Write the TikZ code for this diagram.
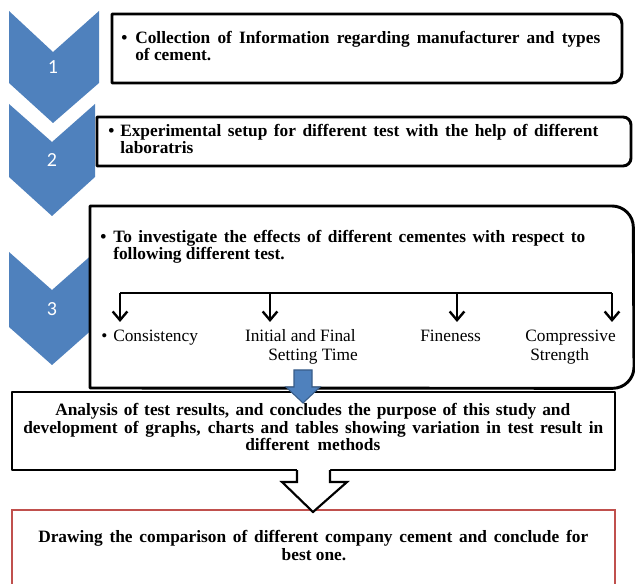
\documentclass[tikz,border=0pt]{standalone}
\usepackage{fontspec}
\setmainfont{Liberation Serif}
\newfontfamily\numfont{Carlito}
\usetikzlibrary{arrows.meta}
\definecolor{chev}{HTML}{4F81BD}
\definecolor{chevdark}{HTML}{385D8A}
\definecolor{redbox}{HTML}{C0504D}
\newcommand\jline[2]{\makebox[#1pt][s]{#2}}
\begin{document}
\begin{tikzpicture}[x=0.75pt,y=-0.75pt,
  boxline/.style={line width=2.2pt, draw=black, fill=white, line join=round},
  bt/.style={font=\fontsize{13}{15}\selectfont\bfseries, inner sep=0pt},
  lt/.style={font=\fontsize{13}{15}\selectfont, inner sep=0pt},
  chevron/.style={fill=chev, draw=none},
  num/.style={font=\numfont\fontsize{15}{18}\selectfont, text=white, inner sep=0pt},
  treeline/.style={line width=1.8pt},
  treearrow/.style={line width=1.8pt, -{Straight Barb[length=6.5pt,width=11pt]}},
  bluearrow/.style={fill=chev, draw=chevdark, line width=0.8pt},
  hollowarrow/.style={line width=1.6pt, draw=black, line join=miter}
]
\useasboundingbox (0,0) rectangle (635,584);
\fill[white] (0,0) rectangle (635,584);

% chevrons
\fill[chevron] (9,11) -- (53,52) -- (99,11) -- (99,83) -- (53,123) -- (9,83) -- cycle;
\fill[chevron] (9,104) -- (52,142) -- (95,104) -- (95,177) -- (52,216) -- (9,177) -- cycle;
\fill[chevron] (9,252) -- (52,290) -- (95,252) -- (95,327) -- (52,365) -- (9,327) -- cycle;
\node[num] (n1) at (53,67) {1};
\node[num] (n2) at (52,160) {2};
\node[num] (n3) at (52,309) {3};

% box 1
\draw[boxline] (112,14) -- (612,14) arc[start angle=90,end angle=0,radius=7.5pt]
  -- (622,73) arc[start angle=0,end angle=-90,radius=7.5pt] -- (112,83) -- cycle;
\node[bt,anchor=base west] (b1bul) at (121,44) {•};
\node[bt,anchor=base west] (b1a) at (135,44) {\jline{348.75}{Collection of Information regarding manufacturer and types}};
\node[bt,anchor=base west] (b1b) at (135,61) {of cement.};

% box 2
\draw[boxline] (97,117) -- (623,117) arc[start angle=90,end angle=0,radius=6pt]
  -- (631,158) arc[start angle=0,end angle=-90,radius=6pt] -- (97,166) -- cycle;
\node[bt,anchor=base west] (b2bul) at (108,137) {•};
\node[bt,anchor=base west] (b2a) at (120,137) {\jline{358.5}{Experimental setup for different test with the help of different}};
\node[bt,anchor=base west] (b2b) at (120,154) {laboratris};

% box 3
\draw[boxline] (90,206) -- (612,206) arc[start angle=90,end angle=0,radius=16pt]
  -- (634,367) arc[start angle=0,end angle=-90,radius=16pt] -- (90,388) -- cycle;
\node[bt,anchor=base west] (b3bul) at (100,243) {•};
\node[bt,anchor=base west] (b3a) at (113,243) {\jline{354}{To investigate the effects of different cementes with respect to}};
\node[bt,anchor=base west] (b3b) at (113,260) {following different test.};

% tree
\coordinate (h1) at (120,293);
\coordinate (h2) at (270,293);
\coordinate (h3) at (457,293);
\coordinate (h4) at (612,293);
\coordinate (e1) at (120,322);
\coordinate (e2) at (270,322);
\coordinate (e3) at (457,322);
\coordinate (e4) at (612,322);
\draw[treeline] (h1) -- (h4);
\draw[treearrow] (h1) -- (e1);
\draw[treearrow] (h2) -- (e2);
\draw[treearrow] (h3) -- (e3);
\draw[treearrow] (h4) -- (e4);
\node[lt,anchor=base west] (l1bul) at (101,342) {•};
\node[lt,anchor=base west] (l1) at (113,342) {Consistency};
\node[lt,anchor=base east] (l2a) at (356,342) {Initial and Final};
\node[lt,anchor=base east] (l2b) at (358,360) {Setting Time};
\node[lt,anchor=base west] (l3) at (420,342) {Fineness};
\node[lt,anchor=base west] (l4a) at (525,342) {Compressive};
\node[lt,anchor=base west] (l4b) at (530,360) {Strength};

% box 4
\draw[boxline] (12,392) rectangle (615,470);
\node[bt,anchor=base west] (b4a) at (55,415) {\jline{386.25}{Analysis of test results, and concludes the purpose of this study and}};
\node[bt,anchor=base west] (b4b) at (23,433) {\jline{435}{development of graphs, charts and tables showing variation in test result in}};
\node[bt,anchor=base west] (b4c) at (245,450) {\jline{101.25}{different methods}};

% blue arrow
\draw[bluearrow] (294,370) -- (312,370) -- (312,387) -- (320,387) -- (303,403) -- (286,387) -- (294,387) -- cycle;

% box 5
\draw[draw=redbox, line width=1.5pt, fill=white] (12,510) rectangle (615,600);
\node[bt,anchor=base west] (b5a) at (38,542) {\jline{412.5}{Drawing the comparison of different company cement and conclude for}};
\node[bt,anchor=base] (b5b) at (314,560) {best one.};

% hollow arrow
\fill[white] (297,468) -- (297,482) -- (282,482) -- (313,512) -- (347,482) -- (330,482) -- (330,468) -- cycle;
\draw[hollowarrow] (297,470) -- (297,482) -- (282,482) -- (313,512) -- (347,482) -- (330,482) -- (330,470);
\end{tikzpicture}
\end{document}
